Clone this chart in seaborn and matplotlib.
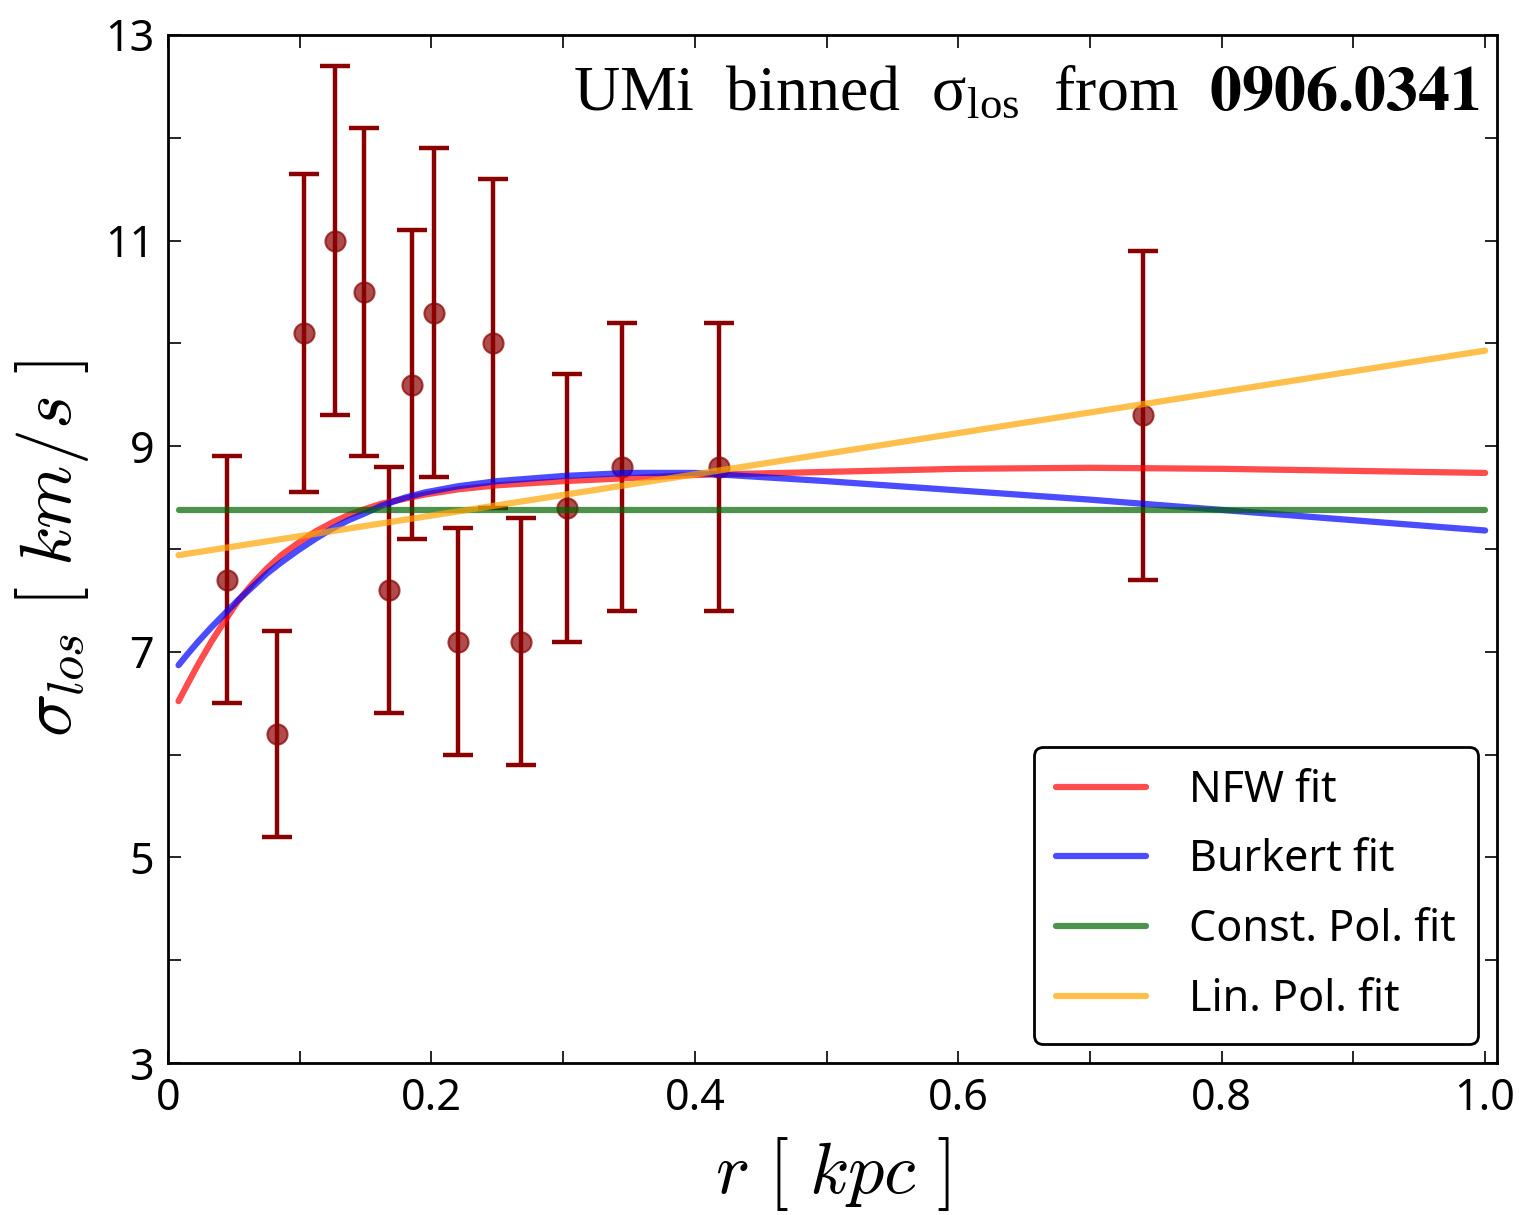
import numpy as np
import pandas as pd
import matplotlib
matplotlib.use("Agg")
import matplotlib.pyplot as plt
import seaborn as sns

# ---- data ----
r_data = [0.045, 0.083, 0.103, 0.127, 0.149, 0.168, 0.185, 0.202, 0.220, 0.247,
          0.268, 0.303, 0.345, 0.418, 0.740]
sigma_data = [7.7, 6.2, 10.1, 11.0, 10.5, 7.6, 9.6, 10.3, 7.1, 10.0,
              7.1, 8.4, 8.8, 8.8, 9.3]
sigma_err = [1.2, 1.0, 1.55, 1.7, 1.6, 1.2, 1.5, 1.6, 1.1, 1.6,
             1.2, 1.3, 1.4, 1.4, 1.6]

r_fit = [0.008, 0.015, 0.023, 0.033, 0.043, 0.053, 0.064, 0.075, 0.086, 0.099,
         0.112, 0.125, 0.137, 0.150, 0.162, 0.180, 0.195, 0.220, 0.250, 0.300,
         0.350, 0.400, 0.500, 0.600, 0.700, 0.800, 0.900, 1.000]
nfw_fit = [6.52, 6.69, 6.88, 7.10, 7.30, 7.49, 7.66, 7.81, 7.94, 8.06,
           8.17, 8.26, 8.33, 8.39, 8.44, 8.49, 8.53, 8.58, 8.62, 8.66,
           8.69, 8.72, 8.75, 8.78, 8.79, 8.78, 8.76, 8.74]
burkert_fit = [6.87, 6.98, 7.10, 7.24, 7.37, 7.50, 7.63, 7.76, 7.87, 7.99,
               8.10, 8.20, 8.28, 8.35, 8.42, 8.50, 8.55, 8.61, 8.66, 8.71,
               8.74, 8.74, 8.66, 8.57, 8.48, 8.38, 8.28, 8.18]
r_pol = [0.008, 1.00]
const_fit = [8.38, 8.38]
lin_fit = [7.94, 9.93]

labels = ["NFW fit", "Burkert fit", "Const. Pol. fit", "Lin. Pol. fit"]
colors = {"NFW fit": "#ff0000", "Burkert fit": "#0000ff",
          "Const. Pol. fit": "#006400", "Lin. Pol. fit": "#ffa500"}

df = pd.concat([
    pd.DataFrame({"r": r_fit, "sigma": nfw_fit, "model": labels[0]}),
    pd.DataFrame({"r": r_fit, "sigma": burkert_fit, "model": labels[1]}),
    pd.DataFrame({"r": r_pol, "sigma": const_fit, "model": labels[2]}),
    pd.DataFrame({"r": r_pol, "sigma": lin_fit, "model": labels[3]}),
], ignore_index=True)
pts = pd.DataFrame({"r": r_data, "sigma": sigma_data})

sns.set_theme(style="white")
plt.rcParams["font.family"] = ["Noto Sans", "DejaVu Sans"]
plt.rcParams.update({"text.color": "black", "axes.labelcolor": "black",
                     "xtick.color": "black", "ytick.color": "black"})

fig = plt.figure(figsize=(15.19, 12.15), dpi=100)
ax = fig.add_axes([0.1106, 0.1251, 0.8749, 0.8461])

# error bars
ax.errorbar(r_data, sigma_data, yerr=sigma_err, fmt="none", ecolor="#8b0000",
            elinewidth=3.2, capsize=11, capthick=3.2, zorder=2)
sns.scatterplot(data=pts, x="r", y="sigma", ax=ax, s=210, color="#8b0000",
                alpha=0.7, edgecolor="#8b0000", linewidth=1.5, zorder=3,
                legend=False)

sns.lineplot(data=df, x="r", y="sigma", hue="model", hue_order=labels,
             palette=colors, estimator=None, sort=False, linewidth=4.5,
             alpha=0.7, ax=ax, zorder=4)
for ln in ax.get_lines():
    ln.set_solid_joinstyle("round")

ax.set_xlim(0, 1.009)
ax.set_ylim(3, 13)
ax.set_xticks(np.arange(0, 1.01, 0.2))
ax.set_xticklabels(["0", "0.2", "0.4", "0.6", "0.8", "1.0"])
ax.set_xticks(np.arange(0, 1.01, 0.1), minor=True)
ax.set_yticks([3, 5, 7, 9, 11, 13])
ax.set_yticks(np.arange(3, 13.1, 1), minor=True)
ax.tick_params(which="both", direction="in", length=9, width=1.2,
               top=True, right=True, bottom=True, left=True, color="black")
ax.tick_params(which="major", labelsize=31, pad=10, labelcolor="black")
for s in ax.spines.values():
    s.set_color("black")
    s.set_linewidth(2)

ax.set_xlabel(r"$r\ [\ kpc\ ]$", fontsize=52, math_fontfamily="cm", labelpad=10,
              color="black")
ax.set_ylabel(r"$\sigma_{los}\ [\ km/s\ ]$", fontsize=52, math_fontfamily="cm",
              labelpad=10, color="black")

ax.text(0.987, 0.927,
        r"UMi  binned  σ$_\mathregular{los}$  from  $\mathbf{0906.0341}$",
        transform=ax.transAxes, ha="right", va="baseline", fontsize=46,
        family="Liberation Serif", math_fontfamily="stix", color="black")

h, l = ax.get_legend_handles_labels()
leg = ax.legend(h, l, loc="lower right", fontsize=31, frameon=True,
                fancybox=True, edgecolor="black", framealpha=1,
                handlelength=2.1, handletextpad=1.0, labelspacing=0.6,
                borderpad=0.5, borderaxespad=0.45)
leg.get_frame().set_linewidth(2)
for text in leg.get_texts():
    text.set_color("black")
for line in leg.get_lines():
    line.set_linewidth(4.5)
    line.set_alpha(0.7)

fig.savefig("out.png", dpi=100)
